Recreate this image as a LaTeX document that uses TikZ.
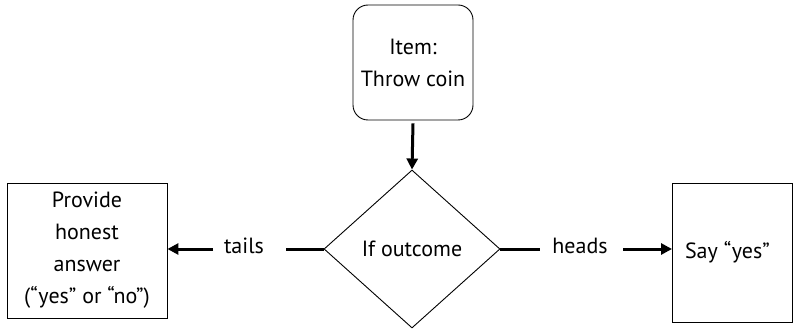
\documentclass[tikz,border=0pt]{standalone}
\usepackage{fontspec}
\setmainfont{PT Sans}
\usetikzlibrary{shapes.geometric,arrows.meta}
\begin{document}
\begin{tikzpicture}[x=1pt,y=-1pt,
  box/.style={draw, line width=0.9pt, minimum width=#1, align=center, font=\fontsize{22}{32}\selectfont, inner sep=0pt},
  lbl/.style={font=\fontsize{22}{26}\selectfont, inner sep=0pt},
  thick line/.style={line width=3pt},
  arr/.style={line width=3pt, -{Triangle[length=11pt,width=11pt]}}]
\useasboundingbox (0,0) rectangle (795,331);
\node[box=120pt, minimum height=115pt, rounded corners=15pt] (item) at (413,62.5) {Item:\\Throw coin};
\node[draw, line width=0.9pt, diamond, minimum width=176pt, minimum height=158pt, inner sep=0pt, font=\fontsize{22}{26}\selectfont] (dec) at (412,249) {If outcome};
\node[box=160pt, minimum height=135pt] (left) at (87,250.5) {Provide\\honest\\answer\\(“yes” or “no”)};
\node[box=120pt, minimum height=139pt, anchor=west] (right) at (672,252.5) {Say “yes”\hspace{10pt}};
\node[lbl] (tails) at (244,246) {tails};
\node[lbl] (heads) at (580,246) {heads};
\coordinate (tl) at (286,249);
\coordinate (tr) at (213,249);
\coordinate (hl) at (540,249);
\coordinate (hr) at (623,249);
\draw[arr] (item.south) ++(0,3) -- (dec.north);
\draw[thick line] (dec.west) -- (tl);
\draw[arr] (tr) -- (tr -| left.east);
\draw[thick line] (dec.east) -- (hl);
\draw[arr] (hr) -- (hr -| right.west);
\end{tikzpicture}
\end{document}
